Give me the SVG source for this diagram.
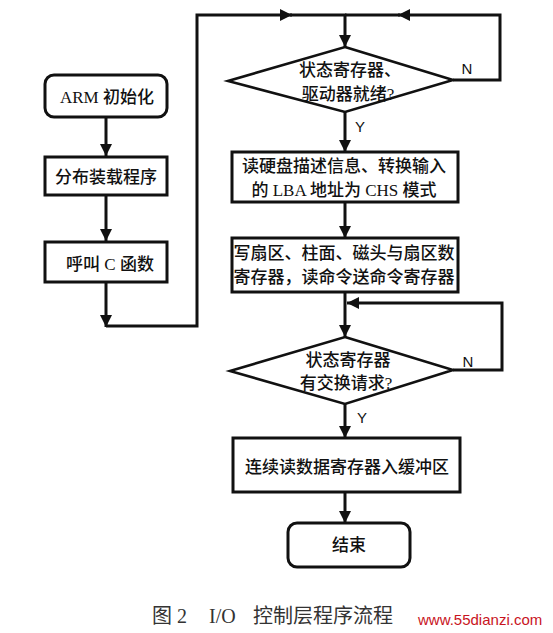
<svg xmlns="http://www.w3.org/2000/svg" width="553" height="633" viewBox="0 0 553 633">
<style>
.bx{fill:#fff;stroke:#111;stroke-width:3}
.dm{fill:#fff;stroke:#111;stroke-width:2.6}
.cn{fill:none;stroke:#111;stroke-width:3}
.t{font-family:"Liberation Serif","Noto Sans CJK SC",serif;font-size:17px;font-weight:500;fill:#111;text-anchor:middle;dominant-baseline:central}
.lb{font-family:"Liberation Sans","Noto Sans CJK SC",sans-serif;font-size:15px;fill:#111;text-anchor:middle;dominant-baseline:central}
.cap{font-family:"Liberation Serif","Noto Sans CJK SC",serif;font-size:20px;fill:#333}
.wm{font-family:"Liberation Sans",sans-serif;font-size:15px;fill:#c8141e}
</style>
<defs>
<marker id="ah" viewBox="0 0 12 12" refX="12" refY="6" markerWidth="12" markerHeight="12" markerUnits="userSpaceOnUse" orient="auto">
<path d="M0,0 L12,6 L0,12 z" fill="#111"/>
</marker>
</defs>
<rect width="553" height="633" fill="#fff"/>
<g id="connectors">
<path class="cn" d="M106,117 V156" marker-end="url(#ah)"/>
<path class="cn" d="M106,195 V241" marker-end="url(#ah)"/>
<path class="cn" d="M106,282 V327" marker-end="url(#ah)"/>
<path class="cn" d="M106,326 H197 V15 H292" marker-end="url(#ah)"/>
<path class="cn" d="M290,15 H345 V47" marker-end="url(#ah)"/>
<path class="cn" d="M453,80 H500 V15 H398" marker-end="url(#ah)"/>
<path class="cn" d="M400,15 H345"/>
<path class="cn" d="M345,112 V152" marker-end="url(#ah)"/>
<path class="cn" d="M345,202 V238" marker-end="url(#ah)"/>
<path class="cn" d="M345,292 V337" marker-end="url(#ah)"/>
<path class="cn" d="M453,370 H502 V303 H347" marker-end="url(#ah)"/>
<path class="cn" d="M345,404 V438" marker-end="url(#ah)"/>
<path class="cn" d="M345,492 V523" marker-end="url(#ah)"/>
<text class="lb" x="467" y="68">N</text>
<text class="lb" x="360" y="126">Y</text>
<text class="lb" x="468" y="361">N</text>
<text class="lb" x="362" y="417">Y</text>
</g>
<g id="n-arm">
<rect class="bx" x="45" y="75" width="122" height="42" rx="9"/>
<text class="t" x="107" y="97">ARM 初始化</text>
</g>
<g id="n-load">
<rect class="bx" x="45" y="157" width="122" height="38"/>
<text class="t" x="106" y="177">分布装载程序</text>
</g>
<g id="n-callc">
<rect class="bx" x="45" y="242" width="122" height="40"/>
<text class="t" x="110" y="264">呼叫 C 函数</text>
</g>
<g id="n-ready">
<polygon class="dm" points="345,47 453,80 345,112 228,81"/>
<text class="t" x="350" y="70">状态寄存器、</text>
<text class="t" x="348" y="94">驱动器就绪?</text>
</g>
<g id="n-readinfo">
<rect class="bx" x="232" y="152" width="226" height="50"/>
<text class="t" x="344" y="166">读硬盘描述信息、转换输入</text>
<text class="t" x="344" y="190">的 LBA 地址为 CHS 模式</text>
</g>
<g id="n-write">
<rect class="bx" x="232" y="238" width="226" height="54"/>
<text class="t" x="344" y="253">写扇区、柱面、磁头与扇区数</text>
<text class="t" x="344" y="277">寄存器，读命令送命令寄存器</text>
</g>
<g id="n-request">
<polygon class="dm" points="345,337 453,370 345,404 230,371"/>
<text class="t" x="348" y="360">状态寄存器</text>
<text class="t" x="346" y="383">有交换请求?</text>
</g>
<g id="n-buffer">
<rect class="bx" x="233" y="438" width="227" height="54"/>
<text class="t" x="347" y="467">连续读数据寄存器入缓冲区</text>
</g>
<g id="n-end">
<rect class="bx" x="288" y="523" width="122" height="44" rx="9"/>
<text class="t" x="349" y="545">结束</text>
</g>
<g id="caption">
<text class="cap" x="152" y="623">图 2</text>
<text class="cap" x="209" y="623">I/O</text>
<text class="cap" x="253" y="623">控制层程序流程</text>
<text class="wm" x="418" y="625">www.55dianzi.com</text>
</g>
</svg>
